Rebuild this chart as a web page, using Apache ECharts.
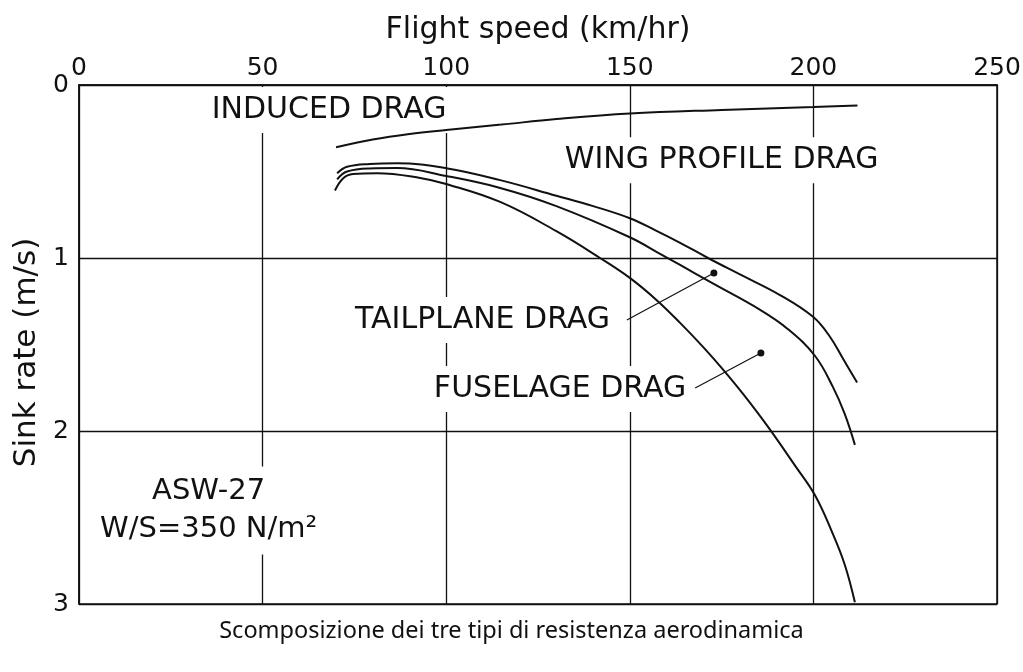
<!DOCTYPE html>
<html>
<head>
<meta charset="utf-8">
<script src="https://cdn.jsdelivr.net/npm/echarts@6/dist/echarts.min.js"></script>
<style>
html,body{margin:0;padding:0;background:#fff;}
#chart{width:1023px;height:672px;}
</style>
</head>
<body>
<div id="chart"></div>
<script>
// Flight speed (km/hr) vs sink rate (m/s)
const xTicks = [0, 50, 100, 150, 200, 250];
const yTicks = [0, 1, 2, 3];

const inducedDrag = [[70,0.36],[80,0.315],[90,0.283],[100,0.26],[115,0.229],[130,0.197],[150,0.165],[175,0.144],[200,0.127],[212,0.118]];

const wingProfileDrag = [[70.3,0.51],[73,0.473],[79.2,0.457],[86.6,0.453],[100,0.481],[114.7,0.55],[130,0.64],[140,0.70],[150,0.77],[157,0.84],[163.7,0.912],[171.3,1.0],[180,1.095],[190.9,1.214],[199.9,1.34],[204.5,1.455],[208,1.58],[211.9,1.72]];

const tailplaneDrag = [[70.3,0.545],[73,0.50],[79.2,0.482],[86.6,0.48],[100,0.526],[114.7,0.595],[130,0.70],[150,0.88],[159,0.985],[163.7,1.04],[172,1.14],[185.5,1.30],[193,1.41],[200.4,1.565],[205.3,1.745],[208.5,1.9],[211.3,2.08]];

const fuselageDrag = [[69.7,0.61],[71.9,0.54],[74.6,0.515],[81.2,0.51],[92.9,0.537],[100,0.572],[114.7,0.676],[130,0.845],[141.9,1.0],[150,1.115],[157.4,1.245],[163.7,1.375],[170,1.515],[175.4,1.645],[181,1.79],[187.6,1.975],[195,2.2],[200.4,2.37],[205,2.58],[208.5,2.77],[211.3,2.99]];

// annotation texts and their anchor positions (speed, sink)
const labelNames = ['INDUCED DRAG', 'WING PROFILE DRAG', 'TAILPLANE DRAG', 'FUSELAGE DRAG'];
const labelPos = [[68.1,0.145],[175,0.435],[109.9,1.358],[131,1.757]];
const noteLines = ['ASW-27', 'W/S=350 N/m²'];
const notePos = [35.3, 2.46];

// leader lines: [dot, end]
const tailLeader = [[172.9,1.087],[149.2,1.358]];
const fuseLeader = [[185.7,1.549],[167.8,1.751]];

const caption = 'Scomposizione dei tre tipi di resistenza aerodinamica';

const INK = '#111';
const FONT = 'DejaVu Sans';

const chart = echarts.init(document.getElementById('chart'), null, {renderer:'canvas'});

function curve(name, data){
  return {name, type:'line', data, smooth:0.4, showSymbol:false, symbol:'none',
    lineStyle:{color:INK, width:2}, z:5, silent:true};
}
function leader(name, pts){
  return {name, type:'line', silent:true, z:6,
    data:[{value:pts[0], symbol:'circle', symbolSize:7}, {value:pts[1], symbol:'none'}],
    itemStyle:{color:INK}, lineStyle:{color:INK, width:1.2}};
}

const option = {
  backgroundColor:'#fff',
  animation:false,
  textStyle:{fontFamily:FONT, color:INK},
  title:{text:caption, left:'center', top:614,
    textStyle:{fontFamily:'Noto Sans', fontSize:23.5, fontWeight:'normal', color:INK}},
  grid:{left:79, right:26, top:85, bottom:68, containLabel:false, outerBoundsMode:'none',
    show:true, borderColor:INK, borderWidth:1.5, backgroundColor:'transparent'},
  xAxis:{type:'value', position:'top', min:0, max:250, interval:50,
    name:'Flight speed (km/hr)', nameLocation:'middle', nameGap:40,
    nameTextStyle:{fontSize:30, color:INK, fontFamily:FONT},
    axisLine:{show:true, lineStyle:{color:INK, width:1.5}},
    axisTick:{show:false},
    axisLabel:{fontSize:25, color:INK, margin:4, fontFamily:FONT},
    splitLine:{show:true, lineStyle:{color:INK, width:1.3}}},
  yAxis:{type:'value', inverse:true, min:0, max:3, interval:1,
    name:'Sink rate (m/s)', nameLocation:'middle', nameGap:36, nameRotate:90,
    nameTextStyle:{fontSize:31, color:INK, fontFamily:FONT, padding:[0,16,0,0]},
    axisLine:{show:true, lineStyle:{color:INK, width:1.5}},
    axisTick:{show:false},
    axisLabel:{fontSize:25, color:INK, margin:10, fontFamily:FONT},
    splitLine:{show:true, lineStyle:{color:INK, width:1.3}}},
  series:[
    curve('Induced drag', inducedDrag),
    curve('Wing profile drag', wingProfileDrag),
    curve('Tailplane drag', tailplaneDrag),
    curve('Fuselage drag', fuselageDrag),
    leader('Tailplane leader', tailLeader),
    leader('Fuselage leader', fuseLeader),
    {type:'scatter', name:'labels', silent:true, z:4, symbolSize:0,
      itemStyle:{opacity:1, color:'rgba(0,0,0,0)'},
      data: labelNames.map((n,i)=>({name:n, value:labelPos[i]})),
      label:{show:true, position:'inside', formatter:p=>p.name, fontSize:30, color:INK,
        fontFamily:FONT, backgroundColor:'#fff', padding:[8,6,8,6]}},
    {type:'scatter', name:'note', silent:true, z:4, symbolSize:0,
      itemStyle:{opacity:1, color:'rgba(0,0,0,0)'},
      data:[{name:noteLines.join('\n'), value:notePos}],
      label:{show:true, position:'inside', formatter:p=>p.name, fontSize:29, lineHeight:38, color:INK,
        fontFamily:FONT, backgroundColor:'#fff', padding:[6,6,6,6], align:'center'}}
  ]
};
chart.setOption(option);
</script>
</body>
</html>
